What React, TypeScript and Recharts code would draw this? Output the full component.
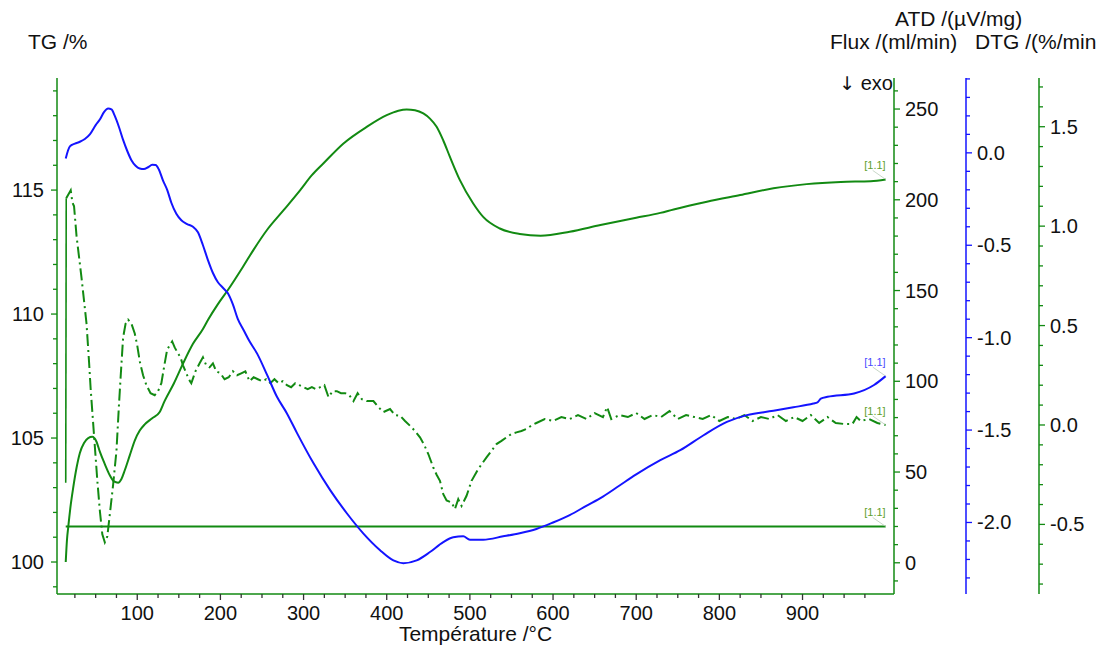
import { LineChart, Line, XAxis, YAxis } from "recharts";

const FONT = '"Liberation Sans", Arial, sans-serif';
const GREEN = "#128a12";
const BLUE = "#1414ff";
const INK = "#111";

// TG /% (solid green)
const tgTemp = [14, 15.5, 17, 20, 23, 27, 31, 36, 41, 46, 51, 55, 61, 67, 72, 77, 81, 85, 91, 97, 103, 109, 118, 127, 133, 144, 155, 167, 179, 185, 197, 209, 227, 240, 256, 276, 296, 310, 324, 348, 376, 400, 414, 424, 434, 444, 452, 460, 468, 476, 488, 504, 516, 536, 560, 585, 620, 657, 700, 729, 745, 785, 825, 865, 905, 946, 982, 1000];
const tgValue = [100.0, 100.9, 101.4, 102.3, 103.0, 103.8, 104.4, 104.8, 105.0, 105.05, 104.85, 104.45, 103.95, 103.5, 103.25, 103.2, 103.35, 103.7, 104.3, 104.9, 105.3, 105.55, 105.8, 106.05, 106.5, 107.2, 108.0, 108.8, 109.4, 109.76, 110.4, 110.97, 111.9, 112.6, 113.39, 114.19, 115.0, 115.6, 116.08, 116.88, 117.55, 118.02, 118.2, 118.25, 118.22, 118.09, 117.88, 117.55, 117.0, 116.34, 115.4, 114.46, 113.92, 113.45, 113.23, 113.16, 113.32, 113.59, 113.88, 114.08, 114.22, 114.53, 114.8, 115.07, 115.24, 115.33, 115.36, 115.43];

// Flux /(ml/min)
const fluxTemp = [14, 1000];
const fluxValue = [20, 20];

// ATD /(µV/mg) (blue)
const atdTemp = [14, 19, 25, 31, 37, 43, 50, 55, 60, 65, 69, 73, 78, 83, 88, 93, 98, 103, 108, 113, 118, 122, 126, 131, 136, 141, 147, 153, 160, 167, 173, 179, 185, 191, 197, 203, 209, 215, 221, 228, 235, 244, 256, 268, 280, 292, 312, 332, 352, 372, 392, 408, 420, 436, 452, 468, 480, 492, 500, 516, 540, 560, 580, 600, 620, 640, 660, 680, 700, 729, 753, 781, 809, 833, 865, 889, 913, 918, 922, 930, 962, 986, 1000];
const atdValue = [-0.03, 0.035, 0.05, 0.06, 0.075, 0.1, 0.15, 0.18, 0.22, 0.24, 0.235, 0.2, 0.14, 0.07, 0.01, -0.04, -0.07, -0.085, -0.088, -0.078, -0.065, -0.066, -0.09, -0.15, -0.2, -0.27, -0.33, -0.365, -0.385, -0.4, -0.43, -0.5, -0.58, -0.65, -0.7, -0.73, -0.76, -0.82, -0.9, -0.96, -1.02, -1.085, -1.2, -1.32, -1.41, -1.515, -1.68, -1.825, -1.95, -2.06, -2.15, -2.205, -2.22, -2.205, -2.16, -2.106, -2.08, -2.075, -2.093, -2.093, -2.075, -2.058, -2.035, -2.0, -1.96, -1.91, -1.86, -1.8, -1.74, -1.663, -1.609, -1.528, -1.456, -1.419, -1.396, -1.377, -1.356, -1.35, -1.33, -1.32, -1.302, -1.256, -1.208];

// DTG /(%/min) (green dash-dot)
const dtgTemp = [14, 14.6, 20, 22, 24, 27, 33, 39, 42, 44, 48, 52, 55, 58, 61, 64, 67, 71, 75, 78, 80, 83, 86, 89, 93, 97, 100, 103, 107, 111, 116, 121, 125, 129, 133, 136, 139, 142, 145, 149, 152, 155, 158, 162, 165, 170, 175, 179, 183, 187, 191, 195, 200, 205, 210, 215, 220, 225, 230, 235, 240, 245, 250, 255, 260, 265, 270, 275, 280, 285, 290, 295, 300, 305, 310, 315, 320, 325, 330, 335, 340, 345, 350, 355, 360, 365, 370, 376, 384, 390, 396, 404, 410, 416, 422, 428, 434, 440, 445, 450, 456, 460, 464, 468, 472, 478, 482, 486, 490, 496, 502, 510, 520, 526, 532, 538, 544, 550, 556, 562, 568, 575, 580, 590, 600, 610, 620, 630, 640, 650, 660, 665, 670, 680, 690, 700, 710, 720, 730, 740, 750, 760, 770, 780, 790, 800, 810, 820, 830, 840, 850, 860, 870, 880, 890, 900, 910, 920, 930, 940, 950, 960, 965, 970, 980, 990, 1000];
const dtgValue = [-0.29, 1.14, 1.18, 1.12, 1.1, 0.95, 0.74, 0.51, 0.32, 0.18, -0.05, -0.28, -0.43, -0.55, -0.59, -0.56, -0.45, -0.3, -0.13, 0.1, 0.24, 0.44, 0.51, 0.53, 0.51, 0.46, 0.4, 0.32, 0.25, 0.2, 0.16, 0.15, 0.17, 0.21, 0.31, 0.38, 0.4, 0.42, 0.39, 0.36, 0.34, 0.3, 0.27, 0.23, 0.21, 0.27, 0.31, 0.34, 0.3, 0.29, 0.31, 0.27, 0.26, 0.23, 0.24, 0.27, 0.25, 0.26, 0.27, 0.22, 0.24, 0.23, 0.22, 0.23, 0.21, 0.23, 0.21, 0.22, 0.2, 0.19, 0.21, 0.2, 0.19, 0.18, 0.19, 0.18, 0.19, 0.2, 0.14, 0.17, 0.17, 0.16, 0.16, 0.15, 0.12, 0.16, 0.13, 0.12, 0.12, 0.09, 0.065, 0.08, 0.05, 0.047, 0.02, -0.004, -0.03, -0.062, -0.1, -0.146, -0.214, -0.25, -0.281, -0.348, -0.38, -0.39, -0.423, -0.373, -0.407, -0.356, -0.281, -0.222, -0.163, -0.13, -0.096, -0.08, -0.062, -0.045, -0.037, -0.03, -0.02, 0.0, 0.01, 0.03, 0.02, 0.04, 0.03, 0.05, 0.03, 0.06, 0.04, 0.09, 0.03, 0.05, 0.04, 0.06, 0.03, 0.05, 0.04, 0.07, 0.03, 0.05, 0.04, 0.03, 0.05, 0.02, 0.04, 0.03, 0.05, 0.02, 0.04, 0.03, 0.05, 0.02, 0.04, 0.02, 0.05, 0.01, 0.04, 0.01, 0.005, 0.005, 0.04, 0.02, 0.03, 0.01, 0.0];

// axis ticks (major labelled, minor unlabelled)
const xMajor = [100, 200, 300, 400, 500, 600, 700, 800, 900];
const tgMajor = [100, 105, 110, 115];
const fluxMajor = [0, 50, 100, 150, 200, 250];
const atdMajor = [-2.0, -1.5, -1.0, -0.5, 0.0];
const dtgMajor = [-0.5, 0.0, 0.5, 1.0, 1.5];

const range = (from: number, to: number, step: number) => {
  const out: number[] = [];
  for (let v = from; v <= to + 1e-9; v += step) out.push(Math.round(v * 1000) / 1000);
  return out;
};

const xTicks = range(25, 975, 25);
const tgTicks = range(99, 119, 1);
const fluxTicks = range(-10, 260, 10);
const atdTicks = range(-2.3, 0.4, 0.1);
const dtgTicks = range(-0.8, 1.7, 0.1);

const rows = (ts: number[], vs: number[]) => ts.map((t, i) => ({ t, v: vs[i] }));
const tgRows = rows(tgTemp, tgValue);
const fluxRows = rows(fluxTemp, fluxValue);
const atdRows = rows(atdTemp, atdValue);
const dtgAll = rows(dtgTemp, dtgValue);
const dtgHead = dtgAll.slice(0, 2);
const dtgRows = dtgAll.slice(1);

const TICK = 6;

function axisTick(side: "left" | "right" | "bottom", gap: number, color: string, majors: number[], digits: number) {
  return (props: any) => {
    const { x, y, payload } = props;
    const v = payload.value as number;
    const major = majors.some((m) => Math.abs(m - v) < 1e-6);
    const len = major ? 6 : 4;
    const label = v.toFixed(digits);
    if (side === "bottom") {
      const ay = y - TICK - gap;
      return (
        <g>
          <line x1={x} y1={ay} x2={x} y2={ay + len} stroke={color} strokeWidth={1.3} />
          {major && (
            <text x={x} y={y} dy="0.71em" textAnchor="middle" fontSize={20} fill={INK} fontFamily={FONT}>
              {label}
            </text>
          )}
        </g>
      );
    }
    const dir = side === "left" ? -1 : 1;
    const ax = x - dir * (TICK + gap);
    return (
      <g>
        <line x1={ax} y1={y} x2={ax + dir * len} y2={y} stroke={color} strokeWidth={1.3} />
        {major && (
          <text x={x} y={y} dy="0.35em" textAnchor={side === "left" ? "end" : "start"} fontSize={20} fill={INK} fontFamily={FONT}>
            {label}
          </text>
        )}
      </g>
    );
  };
}

const endTag = (last: number, color: string) => (p: any) => {
  if (p.index !== last) return <g key={`d${p.index}`} />;
  const { cx, cy } = p;
  return (
    <g key="tag">
      <line x1={cx - 13} y1={cy - 9} x2={cx} y2={cy} stroke="#b9cbb9" strokeWidth={0.8} />
      <text x={cx} y={cy - 10} textAnchor="end" fontSize={11} fill={color} fontFamily={FONT}>
        [1.1]
      </text>
    </g>
  );
};

export default function App() {
  return (
    <div style={{ position: "absolute", left: 0, top: 0, width: 1102, height: 648, background: "#fff" }}>
      <LineChart width={1102} height={648} margin={{ top: 78, right: 0, bottom: 0, left: 0 }} style={{ fontFamily: FONT }}>
        <XAxis
          dataKey="t"
          type="number"
          domain={[3.5, 1010]}
          ticks={xTicks}
          interval={0}
          height={54}
          tickSize={TICK}
          tickMargin={6}
          tickLine={false}
          axisLine={{ stroke: GREEN, strokeWidth: 1.5 }}
          tick={axisTick("bottom", 6, "#333", xMajor, 0)}
          allowDataOverflow
        />
        <YAxis
          yAxisId="a_tg"
          orientation="left"
          type="number"
          domain={[98.71, 119.52]}
          ticks={tgTicks}
          interval={0}
          width={57}
          tickSize={TICK}
          tickMargin={7}
          tickLine={false}
          axisLine={{ stroke: GREEN, strokeWidth: 1.5 }}
          tick={axisTick("left", 7, GREEN, tgMajor, 0)}
          allowDataOverflow
        />
        <YAxis
          yAxisId="b_flux"
          orientation="right"
          type="number"
          domain={[-17.2, 267.1]}
          ticks={fluxTicks}
          interval={0}
          width={72}
          tickSize={TICK}
          tickMargin={5}
          tickLine={false}
          axisLine={{ stroke: GREEN, strokeWidth: 1.5 }}
          tick={axisTick("right", 5, GREEN, fluxMajor, 0)}
          allowDataOverflow
        />
        <YAxis
          yAxisId="c_atd"
          orientation="right"
          type="number"
          domain={[-2.387, 0.405]}
          ticks={atdTicks}
          interval={0}
          width={73}
          tickSize={TICK}
          tickMargin={5}
          tickLine={false}
          axisLine={{ stroke: BLUE, strokeWidth: 1.5 }}
          tick={axisTick("right", 5, BLUE, atdMajor, 1)}
          allowDataOverflow
        />
        <YAxis
          yAxisId="d_dtg"
          orientation="right"
          type="number"
          domain={[-0.85, 1.745]}
          ticks={dtgTicks}
          interval={0}
          width={63}
          tickSize={TICK}
          tickMargin={5}
          tickLine={false}
          axisLine={{ stroke: GREEN, strokeWidth: 1.5 }}
          tick={axisTick("right", 5, GREEN, dtgMajor, 1)}
          allowDataOverflow
        />
        <Line yAxisId="b_flux" data={fluxRows} dataKey="v" type="linear" stroke={GREEN} strokeWidth={2} dot={endTag(fluxRows.length - 1, "#5f9f2f")} activeDot={false} isAnimationActive={false} />
        <Line yAxisId="d_dtg" data={dtgHead} dataKey="v" type="linear" stroke={GREEN} strokeWidth={1.6} dot={false} activeDot={false} isAnimationActive={false} />
        <Line yAxisId="d_dtg" data={dtgRows} dataKey="v" type="linear" stroke={GREEN} strokeWidth={2} strokeDasharray="12 4 2 4" dot={endTag(dtgRows.length - 1, "#5f9f2f")} activeDot={false} isAnimationActive={false} />
        <Line yAxisId="a_tg" data={tgRows} dataKey="v" type="monotone" stroke={GREEN} strokeWidth={2} dot={endTag(tgRows.length - 1, "#5f9f2f")} activeDot={false} isAnimationActive={false} />
        <Line yAxisId="c_atd" data={atdRows} dataKey="v" type="monotone" stroke={BLUE} strokeWidth={2} dot={endTag(atdRows.length - 1, "#4a4aff")} activeDot={false} isAnimationActive={false} />
      </LineChart>
      <svg width={1102} height={648} style={{ position: "absolute", left: 0, top: 0, pointerEvents: "none" }} fontFamily={FONT} fill={INK}>
        <text x={28} y={49} fontSize={21}>TG /%</text>
        <text x={895} y={26} fontSize={21}>ATD /(µV/mg)</text>
        <text x={830} y={49} fontSize={21}>Flux /(ml/min)</text>
        <text x={975} y={49} fontSize={21}>DTG /(%/min</text>
        <text x={893} y={90} fontSize={20} textAnchor="end">
          <tspan fontFamily='"DejaVu Sans", sans-serif' fontSize={19}>↓</tspan> exo
        </text>
        <text x={475.5} y={641} fontSize={21} textAnchor="middle">Température /°C</text>
      </svg>
    </div>
  );
}
